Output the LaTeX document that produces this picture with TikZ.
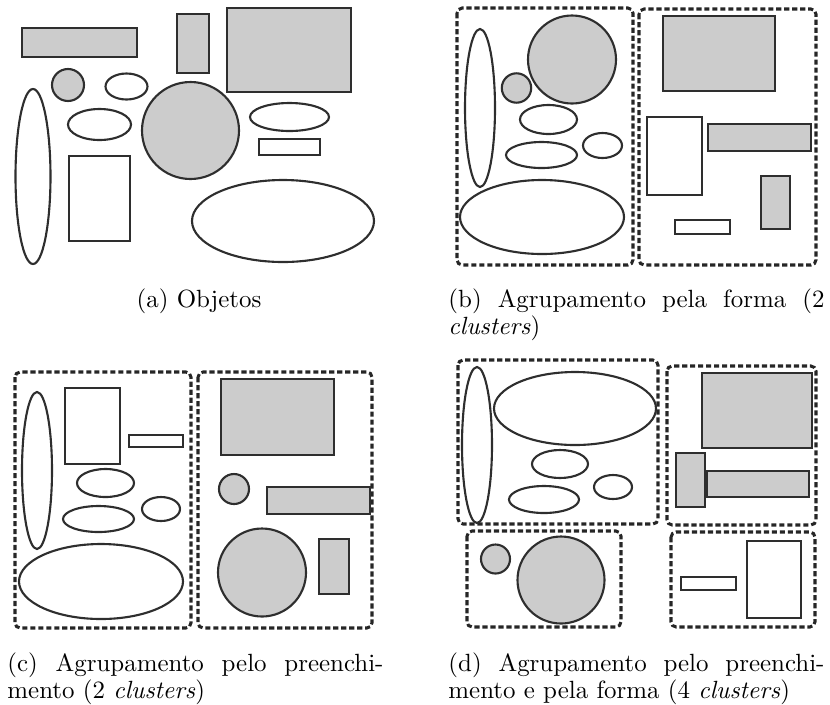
\documentclass[tikz,border=0pt]{standalone}
\usepackage{xcolor}
\usepackage{tikz}
\definecolor{tracoescuro}{HTML}{2E2E2E}
\definecolor{cinzaclaro}{HTML}{CCCCCC}

\begin{document}
\begin{tikzpicture}[x=0.4255pt,y=-0.4255pt,
    cheio/.style={fill=cinzaclaro,draw=tracoescuro,line width=0.9pt},
    vazio/.style={draw=tracoescuro,line width=0.9pt},
    grupo/.style={draw=black!85,line width=1.3pt,dash pattern=on 2.2pt off 1.2pt,rounded corners=2.2pt},
    fonte/.style={font=\fontsize{10.6}{11.9}\selectfont},
    legenda/.style={fonte,inner sep=0pt,anchor=base west,text width=160pt,align=justify}]
  \useasboundingbox (0,0) rectangle (830,704);
  % (a) objetos
  \filldraw[cheio] (22,28) rectangle (137,57);
  \filldraw[cheio] (177,14) rectangle (209,73);
  \filldraw[cheio] (227,8) rectangle (351,92);
  \filldraw[cheio] (68,85) circle [radius=16];
  \draw[vazio] (126.5,86.5) ellipse [x radius=21,y radius=13];
  \draw[vazio] (99.5,124.5) ellipse [x radius=31.5,y radius=15.5];
  \filldraw[cheio] (190.5,130.5) circle [radius=48.5];
  \draw[vazio] (33,176.5) ellipse [x radius=17.5,y radius=87.5];
  \draw[vazio] (69,156) rectangle (130,241);
  \draw[vazio] (289.5,117) ellipse [x radius=39.5,y radius=14];
  \draw[vazio] (259,139) rectangle (320,155);
  \draw[vazio] (283,221) ellipse [x radius=91,y radius=41];
  \node[fonte,anchor=base,inner sep=0pt] (capa) at (199,307) {(a) Objetos};
  % (b) forma
  \draw[grupo] (457,8) rectangle (633,265);
  \draw[grupo] (639,9) rectangle (816,265);
  \draw[vazio] (480,108) ellipse [x radius=15,y radius=79];
  \filldraw[cheio] (572,59.5) circle [radius=44];
  \filldraw[cheio] (516.5,88) circle [radius=14.7];
  \draw[vazio] (548.5,119.5) ellipse [x radius=28.5,y radius=14.5];
  \draw[vazio] (541.5,155) ellipse [x radius=35.5,y radius=13];
  \draw[vazio] (602.5,145.5) ellipse [x radius=19.5,y radius=12.5];
  \draw[vazio] (542,217) ellipse [x radius=82,y radius=37];
  \filldraw[cheio] (663,16) rectangle (775,91);
  \draw[vazio] (647,117) rectangle (702,195);
  \filldraw[cheio] (708,124) rectangle (811,151);
  \filldraw[cheio] (761,176) rectangle (790,229);
  \draw[vazio] (675,220) rectangle (730,234);
  \node[legenda] (capb) at (448,307) {(b) Agrupamento pela forma (2\linebreak \emph{clusters})};
  % (c) preenchimento
  \draw[grupo] (15,372) rectangle (191,628);
  \draw[grupo] (198,372) rectangle (372,628);
  \draw[vazio] (37,470.5) ellipse [x radius=15,y radius=78.5];
  \draw[vazio] (65,388) rectangle (120,464);
  \draw[vazio] (129,435) rectangle (183,447);
  \draw[vazio] (105.5,483) ellipse [x radius=28.5,y radius=14];
  \draw[vazio] (98.5,519) ellipse [x radius=35.5,y radius=13];
  \draw[vazio] (161,509) ellipse [x radius=19,y radius=12];
  \draw[vazio] (101,581.5) ellipse [x radius=82,y radius=37.5];
  \filldraw[cheio] (221,379) rectangle (334,455);
  \filldraw[cheio] (234,489) circle [radius=15];
  \filldraw[cheio] (267,487) rectangle (370,514);
  \filldraw[cheio] (262,572.5) circle [radius=44];
  \filldraw[cheio] (319,539) rectangle (349,594);
  \node[legenda] (capc) at (7,671) {(c) Agrupamento pelo preenchi-\linebreak mento (2 \emph{clusters})};
  % (d) preenchimento e forma
  \draw[grupo] (458,360) rectangle (658,524);
  \draw[grupo] (667,366) rectangle (816,525);
  \draw[grupo] (467,531) rectangle (621,627);
  \draw[grupo] (671,532) rectangle (815,627);
  \draw[vazio] (477,445) ellipse [x radius=15,y radius=78];
  \draw[vazio] (575,408.5) ellipse [x radius=81,y radius=36.5];
  \draw[vazio] (560,464) ellipse [x radius=28,y radius=14];
  \draw[vazio] (544,499.5) ellipse [x radius=35,y radius=13.5];
  \draw[vazio] (613,487) ellipse [x radius=19,y radius=12];
  \filldraw[cheio] (702,373) rectangle (812,448);
  \filldraw[cheio] (676,453) rectangle (705,507);
  \filldraw[cheio] (707,471) rectangle (809,497);
  \filldraw[cheio] (495.5,559) circle [radius=14.5];
  \filldraw[cheio] (561,580) circle [radius=43.5];
  \draw[vazio] (681,577) rectangle (736,590);
  \draw[vazio] (747,541) rectangle (801,618);
  \node[legenda] (capd) at (448,671) {(d) Agrupamento pelo preenchi-\linebreak mento e pela forma (4 \emph{clusters})};
\end{tikzpicture}
\end{document}
